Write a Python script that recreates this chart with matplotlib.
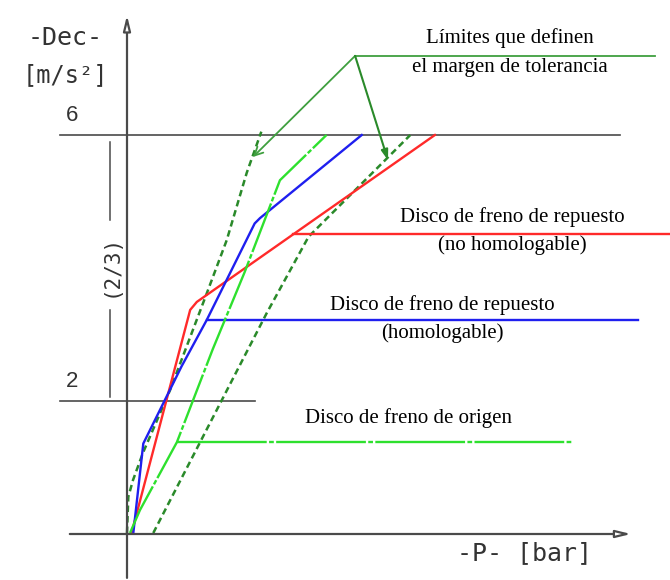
import matplotlib.pyplot as plt

red_p = [0.07, 0.95, 1.05, 4.63]
red_d = [0.02, 3.37, 3.49, 6.0]

blue_p = [0.095, 0.245, 0.82, 1.20, 1.92, 2.0, 3.53]
blue_d = [0.015, 1.36, 2.52, 3.22, 4.67, 4.75, 6.0]

green_p = [0.045, 0.195, 0.75, 1.29, 1.77, 2.30, 3.0]
green_d = [0.015, 0.36, 1.38, 2.78, 3.94, 5.32, 6.0]

tol_left_p = [0.0, 0.02, 0.09, 0.24, 0.65, 1.20, 1.50, 1.80, 2.02]
tol_left_d = [0.015, 0.56, 0.81, 1.22, 2.17, 3.62, 4.42, 5.43, 6.05]

tol_right_p = [0.395, 2.10, 2.73, 4.26]
tol_right_d = [0.015, 3.32, 4.47, 6.0]

# niveles de las líneas de referencia de cada curva
red_level, red_from, red_to = 4.51, 2.5, 8.2
blue_level, blue_from, blue_to = 3.22, 1.20, 7.68
green_level, green_from, green_to = 1.39, 0.75, 6.69

# apex de las flechas de tolerancia y sus destinos
apex = (3.43, 7.19)
tol_line_end = 7.94
arrow_left = (1.895, 5.67)
arrow_right = (3.925, 5.62)

dec_ticks = [6, 2]

RED = '#ff2a2a'
BLUE = '#1f1fef'
GREEN = '#2ee02e'
DGREEN = '#2a8a2a'
TGREEN = '#3f9f3f'
GRAY = '#4a4a4a'

fig = plt.figure(figsize=(6.7, 5.8), dpi=100)
ax = fig.add_axes([0, 0, 1, 1])
ax.set_xlim(-127 / 66.5, 543 / 66.5)
ax.set_ylim(-46 / 66.5, 534 / 66.5)
ax.axis('off')

serif = 'Liberation Serif'
mono = 'DejaVu Sans Mono'

# ejes con flechas huecas
ax.annotate('', xy=(0, 7.80), xytext=(0, -0.66),
            arrowprops=dict(arrowstyle='-|>,head_length=0.9,head_width=0.22',
                            fc='white', ec=GRAY, lw=1.6, shrinkA=0, shrinkB=0))
ax.annotate('', xy=(7.58, 0), xytext=(-0.86, 0),
            arrowprops=dict(arrowstyle='-|>,head_length=0.9,head_width=0.22',
                            fc='white', ec=GRAY, lw=1.6, shrinkA=0, shrinkB=0))

# líneas de nivel 6 y 2
ax.plot([-1.0, 7.41], [dec_ticks[0]] * 2, color=GRAY, lw=1.2)
ax.plot([-1.0, 1.92], [dec_ticks[1]] * 2, color=GRAY, lw=1.2)
for v in dec_ticks:
    ax.text(-0.83, v + 0.30, str(v), ha='center', va='center', fontsize=16,
            family='Liberation Sans', color='#333333')

# cota (2/3)
ax.plot([-0.26, -0.26], [5.89, 4.72], color=GRAY, lw=1.1)
ax.plot([-0.26, -0.26], [3.37, 2.06], color=GRAY, lw=1.1)
ax.text(-0.25, 4.04, '(2/3)', rotation=90, ha='center', va='center',
        fontsize=15, family=mono, color='#333333')

# títulos de ejes
ax.text(-0.93, 7.46, '-Dec-', ha='center', va='center', fontsize=18,
        family=mono, color='#333333')
ax.text(-0.93, 6.90, '[m/s²]', ha='center', va='center', fontsize=17,
        family=mono, color='#333333')
ax.text(5.98, -0.29, '-P- [bar]', ha='center', va='center', fontsize=18,
        family=mono, color='#333333')

# curvas de tolerancia
ax.plot(tol_left_p, tol_left_d, color=DGREEN, lw=1.8, ls=(0, (2.6, 1.6)))
ax.plot(tol_right_p, tol_right_d, color=DGREEN, lw=1.8, ls=(0, (2.6, 1.6)))

# curvas de disco
ax.plot(red_p, red_d, color=RED, lw=1.7)
ax.plot([red_from, red_to], [red_level] * 2, color=RED, lw=1.7)
ax.plot(blue_p, blue_d, color=BLUE, lw=1.7)
ax.plot([blue_from, blue_to], [blue_level] * 2, color=BLUE, lw=1.7)
ax.plot(green_p, green_d, color=GREEN, lw=1.7, ls=(0, (22, 1.0, 2.0, 1.0)))
ax.plot([green_from, green_to], [green_level] * 2, color=GREEN, lw=1.7,
        ls=(0, (38, 1.0, 2.0, 1.0)))

# flechas de límites de tolerancia
ax.plot([apex[0], tol_line_end], [apex[1]] * 2, color=TGREEN, lw=1.3)
ax.annotate('', xy=arrow_left, xytext=apex,
            arrowprops=dict(arrowstyle='->,head_length=0.6,head_width=0.3',
                            color=TGREEN, lw=1.3, shrinkA=0, shrinkB=0))
ax.annotate('', xy=arrow_right, xytext=apex,
            arrowprops=dict(arrowstyle='-|>,head_length=0.6,head_width=0.2',
                            color=DGREEN, lw=1.5, shrinkA=0, shrinkB=0))

# textos
fs = 15
ax.text(5.76, 7.46, 'Límites que definen', ha='center', va='center',
        fontsize=fs, family=serif)
ax.text(5.76, 7.02, 'el margen de tolerancia', ha='center', va='center',
        fontsize=fs, family=serif)
ax.text(5.79, 4.77, 'Disco de freno de repuesto', ha='center', va='center',
        fontsize=fs, family=serif)
ax.text(5.80, 4.35, '(no homologable)', ha='center', va='center',
        fontsize=fs, family=serif)
ax.text(4.74, 3.44, 'Disco de freno de repuesto', ha='center', va='center',
        fontsize=fs, family=serif)
ax.text(4.74, 3.02, '(homologable)', ha='center', va='center',
        fontsize=fs, family=serif)
ax.text(4.23, 1.74, 'Disco de freno de origen', ha='center', va='center',
        fontsize=fs, family=serif)

fig.savefig('out.png', dpi=100)
